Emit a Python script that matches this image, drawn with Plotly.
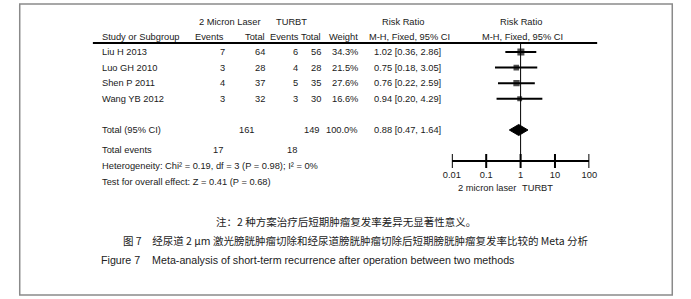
import plotly.graph_objects as go

# ---------------- data ----------------
studies = ["Liu H 2013", "Luo GH 2010", "Shen P 2011", "Wang YB 2012"]
exp_events = [7, 3, 4, 3]
exp_total = [64, 28, 37, 32]
ctl_events = [6, 4, 5, 3]
ctl_total = [56, 28, 35, 30]
weights = [34.3, 21.5, 27.6, 16.6]
rr = [1.02, 0.75, 0.76, 0.94]
ci_low = [0.36, 0.18, 0.22, 0.20]
ci_high = [2.86, 3.05, 2.59, 4.29]
total_rr, total_low, total_high = 0.88, 0.47, 1.64
total_exp, total_ctl, total_weight = 161, 149, 100.0
events_exp, events_ctl = 17, 18
heterogeneity = "Heterogeneity: Chi\u00b2 = 0.19, df = 3 (P = 0.98); I\u00b2 = 0%"
overall_test = "Test for overall effect: Z = 0.41 (P = 0.68)"
axis_ticks = [0.01, 0.1, 1, 10, 100]
axis_labels = ["0.01", "0.1", "1", "10", "100"]
favours = ["2 micron laser", "TURBT"]
note_cn = "注：2 种方案治疗后短期肿瘤复发率差异无显著性意义。"
title_cn = "图 7　经尿道 2 μm 激光膀胱肿瘤切除和经尿道膀胱肿瘤切除后短期膀胱肿瘤复发率比较的 Meta 分析"
title_en = "Figure 7    Meta-analysis of short-term recurrence after operation between two methods"

# ---------------- layout constants (pixels) ----------------
W, H = 691, 299
ROW0, STEP = 52, 15.6
rows = [ROW0 + STEP * i for i in range(len(studies))]
Y_TOTAL, Y_EVENTS, Y_HET, Y_TEST = 130, 150, 166, 182
Y_H1, Y_H2, Y_LINE = 22, 37, 43
Y_AXIS = 161
TF = "Liberation Sans Narrow, Arial Narrow, Liberation Sans, Arial"
TS = 9.3
INK = "#1a1a1a"

fig = go.Figure()

# CI lines
for lo, hi, y in zip(ci_low, ci_high, rows):
    fig.add_trace(go.Scatter(x=[lo, hi], y=[y, y], mode="lines",
                             line=dict(color="black", width=2),
                             hoverinfo="skip", showlegend=False))
# squares sized by weight
fig.add_trace(go.Scatter(x=rr, y=rows, mode="markers",
                         marker=dict(symbol="square", color="black",
                                     size=[1.2 * w ** 0.5 for w in weights],
                                     line=dict(width=0)),
                         hoverinfo="skip", showlegend=False))
# diamond
dh = 5.5
fig.add_trace(go.Scatter(x=[total_low, total_rr, total_high, total_rr, total_low],
                         y=[Y_TOTAL, Y_TOTAL - dh, Y_TOTAL, Y_TOTAL + dh, Y_TOTAL],
                         mode="lines", fill="toself", fillcolor="black",
                         line=dict(color="black", width=1),
                         hoverinfo="skip", showlegend=False))
# axis cross ticks
fig.add_trace(go.Scatter(x=axis_ticks, y=[Y_AXIS] * len(axis_ticks), mode="markers",
                         marker=dict(symbol="line-ns", size=10,
                                     line=dict(color="black", width=2)),
                         hoverinfo="skip", showlegend=False))

ann = []
def txt(x, y, s, anchor="left", size=TS, family=TF, color=INK):
    ann.append(dict(x=x / W, y=y, xref="paper", yref="y", text=s, showarrow=False,
                    xanchor=anchor, yanchor="middle",
                    font=dict(family=family, size=size, color=color)))

# headers
txt(227, Y_H1, "2 Micron Laser", "center")
txt(290, Y_H1, "TURBT", "center")
txt(404, Y_H1, "Risk Ratio", "center")
txt(525, Y_H1, "Risk Ratio", "center")
txt(93, Y_H2, "Study or Subgroup")
txt(206, Y_H2, "Events", "center")
txt(265, Y_H2, "Total", "right")
txt(282, Y_H2, "Events", "center")
txt(322, Y_H2, "Total", "right")
txt(360, Y_H2, "Weight", "right")
txt(411, Y_H2, "M-H, Fixed, 95% CI", "center")
txt(526, Y_H2, "M-H, Fixed, 95% CI", "center")

for i, y in enumerate(rows):
    txt(93, y, studies[i])
    txt(224, y, str(exp_events[i]), "right")
    txt(265, y, str(exp_total[i]), "right")
    txt(298, y, str(ctl_events[i]), "right")
    txt(322, y, str(ctl_total[i]), "right")
    txt(360, y, f"{weights[i]:.1f}%", "right")
    txt(445, y, f"{rr[i]:.2f} [{ci_low[i]:.2f}, {ci_high[i]:.2f}]", "right")

txt(93, Y_TOTAL, "Total (95% CI)")
txt(254, Y_TOTAL, str(total_exp), "right")
txt(321, Y_TOTAL, str(total_ctl), "right")
txt(360, Y_TOTAL, f"{total_weight:.1f}%", "right")
txt(445, Y_TOTAL, f"{total_rr:.2f} [{total_low:.2f}, {total_high:.2f}]", "right")
txt(93, Y_EVENTS, "Total events")
txt(214, Y_EVENTS, str(events_exp), "center")
txt(290, Y_EVENTS, str(events_ctl), "center")
txt(93, Y_HET, heterogeneity)
txt(93, Y_TEST, overall_test)

txt(490, 188, favours[0], "center")
txt(542, 188, favours[1], "center")

CJK = "Noto Sans CJK SC"
txt(345, 221, note_cn, "center", size=10.5, family=CJK, color="#222")
txt(115, 240, title_cn, "left", size=10.5, family=CJK, color="#222")
txt(92, 260, title_en, "left", size=10.7, family="Liberation Sans, Arial", color="#222")

shapes = [
    dict(type="rect", xref="paper", yref="y", x0=11 / W, x1=680 / W, y0=4, y1=295,
         line=dict(color="#8a8a8a", width=1.5), fillcolor="rgba(0,0,0,0)", layer="below"),
    dict(type="line", xref="paper", yref="y", x0=86 / W, x1=603 / W, y0=Y_LINE, y1=Y_LINE,
         line=dict(color="black", width=2)),
    dict(type="line", xref="x", yref="y", x0=1, x1=1, y0=Y_LINE, y1=Y_AXIS,
         line=dict(color="black", width=1)),
]

fig.update_layout(
    width=W, height=H, autosize=False,
    margin=dict(l=0, r=0, t=0, b=0),
    paper_bgcolor="white", plot_bgcolor="white",
    annotations=ann, shapes=shapes,
    xaxis=dict(type="log", range=[-2, 2], domain=[454 / W, 595 / W],
               anchor="free", position=1 - Y_AXIS / H,
               showline=True, linecolor="black", linewidth=2,
               showgrid=False, zeroline=False,
               tickvals=axis_ticks, ticktext=axis_labels,
               ticks="outside", ticklen=5, tickcolor="rgba(0,0,0,0)",
               tickfont=dict(family=TF, size=TS, color=INK)),
    yaxis=dict(range=[H, 0], domain=[0, 1], visible=False),
)

fig.write_html("out.html", config={"displayModeBar": False},
               post_script="document.body.style.margin='0';document.body.style.overflow='hidden';")
